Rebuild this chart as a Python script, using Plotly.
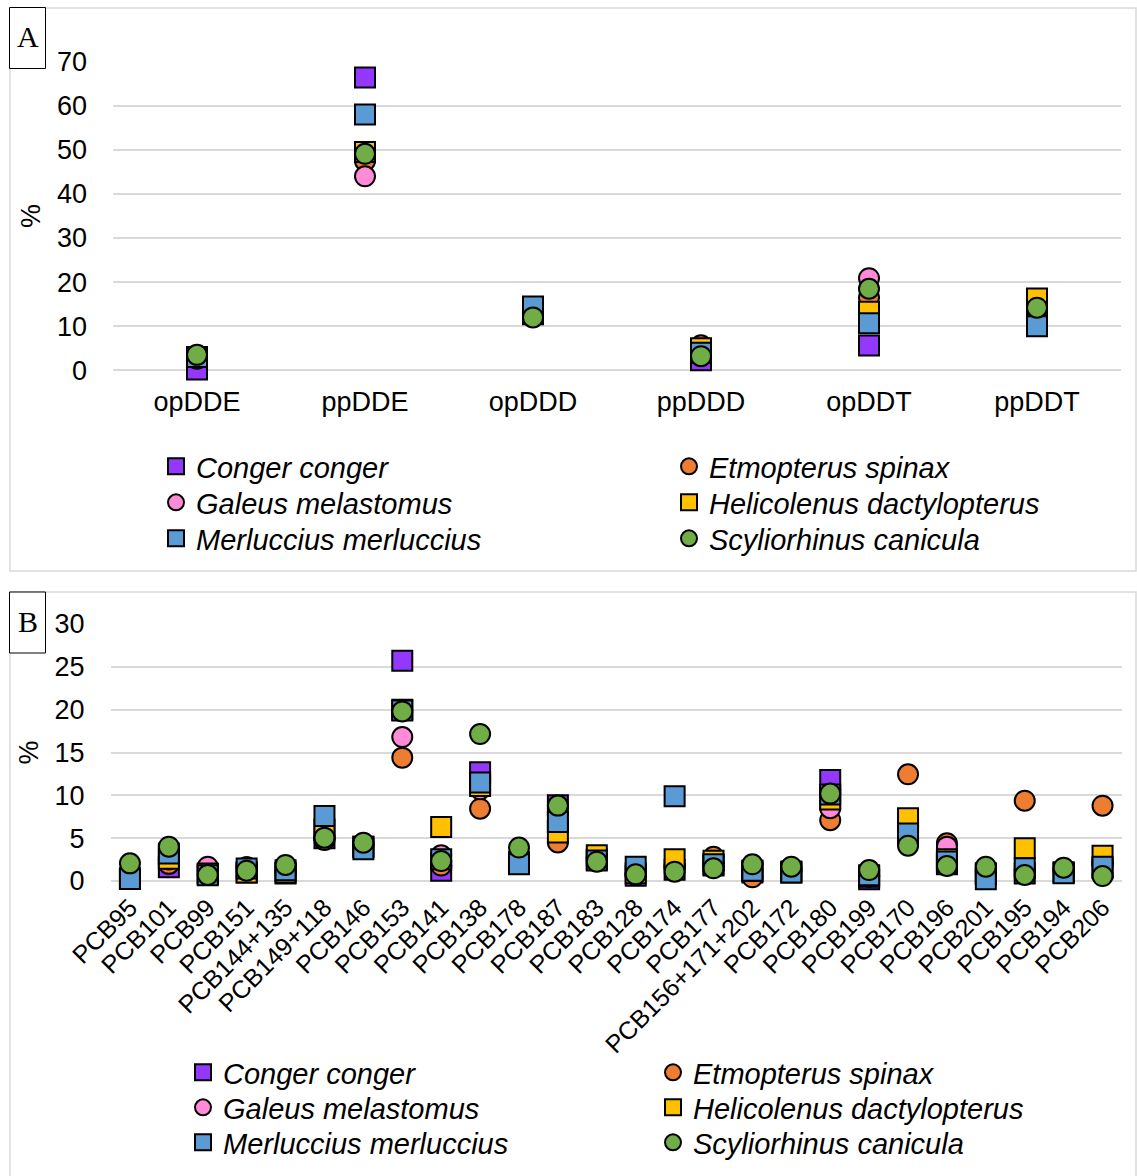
import plotly.graph_objects as go

W, H = 1137, 1176


def fx(px):
    return px / W


def fy(py):
    return 1 - py / H


# ---------------- data ----------------
species = ["Conger conger", "Etmopterus spinax", "Galeus melastomus",
           "Helicolenus dactylopterus", "Merluccius merluccius", "Scyliorhinus canicula"]

ddt_categories = ["opDDE", "ppDDE", "opDDD", "ppDDD", "opDDT", "ppDDT"]
ddt_conger = [0.2, 66.4, 12.7, 2.3, 5.6, 12.5]
ddt_etmopterus = [2.6, 47.5, 13.0, 5.7, 16.5, 13.2]
ddt_galeus = [2.8, 44.0, 13.3, 3.8, 20.9, 13.8]
ddt_helicolenus = [3.0, 49.5, 13.0, 5.0, 13.3, 16.3]
ddt_merluccius = [3.0, 58.0, 14.5, 4.0, 10.7, 10.0]
ddt_scyliorhinus = [3.5, 49.1, 12.0, 3.2, 18.5, 14.2]

pcb_categories = ["PCB95", "PCB101", "PCB99", "PCB151", "PCB144+135", "PCB149+118",
                  "PCB146", "PCB153", "PCB141", "PCB138", "PCB178", "PCB187", "PCB183",
                  "PCB128", "PCB174", "PCB177", "PCB156+171+202", "PCB172", "PCB180",
                  "PCB199", "PCB170", "PCB196", "PCB201", "PCB195", "PCB194", "PCB206"]
pcb_conger = [0.3, 1.6, 0.8, 1.0, 0.87, 5.0, 4.0, 25.7, 1.2, 12.7, 2.2, 8.85, 2.5,
              0.6, 1.3, 1.8, 1.0, 1.0, 11.8, 0.2, 6.0, 1.96, 0.8, 0.87, 1.0, 1.5]
pcb_etmopterus = [1.0, 2.0, 1.2, 1.6, 1.0, 4.8, 4.2, 14.4, 1.8, 8.44, 2.8, 4.5, 2.8,
                  0.7, 1.6, 2.84, 0.43, 1.2, 7.1, 0.5, 12.45, 4.4, 1.0, 9.37, 1.2, 8.79]
pcb_galeus = [1.2, 2.5, 1.67, 1.6, 1.2, 5.2, 4.3, 16.8, 3.0, 10.7, 3.0, 7.0, 2.6,
              0.8, 1.8, 2.0, 1.2, 1.3, 8.5, 0.6, 6.5, 4.0, 1.2, 1.2, 1.3, 2.0]
pcb_helicolenus = [0.3, 2.6, 0.88, 1.0, 1.0, 6.0, 4.0, 20.0, 6.3, 11.1, 2.2, 5.66, 3.0,
                   0.9, 2.55, 2.35, 1.2, 1.1, 9.5, 0.5, 7.33, 2.55, 0.9, 3.83, 1.0, 2.94]
pcb_merluccius = [0.23, 3.2, 0.68, 1.46, 1.26, 7.6, 3.7, 19.9, 2.55, 11.5, 1.96, 6.9, 2.4,
                  1.65, 9.9, 1.96, 1.19, 0.99, 10.1, 0.68, 5.54, 2.27, 0.2, 1.5, 0.91, 1.65]
pcb_scyliorhinus = [2.06, 4.0, 0.7, 1.2, 1.87, 5.06, 4.47, 19.8, 2.33, 17.15, 3.9, 8.8, 2.25,
                    0.78, 1.09, 1.48, 1.95, 1.67, 10.2, 1.28, 4.12, 1.75, 1.67, 0.7, 1.55, 0.58]

ddt_values = [ddt_conger, ddt_etmopterus, ddt_galeus, ddt_helicolenus, ddt_merluccius, ddt_scyliorhinus]
pcb_values = [pcb_conger, pcb_etmopterus, pcb_galeus, pcb_helicolenus, pcb_merluccius, pcb_scyliorhinus]

# ---------------- styles ----------------
symbols = ["square", "circle", "circle", "square", "square", "circle"]
colors = ["#9437FF", "#ED7D31", "#FF8AD8", "#FFC000", "#5B9BD5", "#70AD47"]
FONT = "Liberation Sans, Arial, sans-serif"
GRID = "#d9d9d9"
LEG_FONT = dict(family=FONT, size=29, color="black")

# legend rows: two entries per row, one legend per row
ddt_legends = ["legend", "legend", "legend2", "legend2", "legend3", "legend3"]
pcb_legends = ["legend4", "legend4", "legend5", "legend5", "legend6", "legend6"]

fig = go.Figure()

for i, name in enumerate(species):
    fig.add_trace(go.Scatter(
        x=ddt_categories, y=ddt_values[i], mode="markers", name="<i>%s</i>" % name,
        xaxis="x", yaxis="y", legend=ddt_legends[i], cliponaxis=False,
        marker=dict(symbol=symbols[i], size=20, color=colors[i],
                    line=dict(color="black", width=2)),
    ))

for i, name in enumerate(species):
    fig.add_trace(go.Scatter(
        x=pcb_categories, y=pcb_values[i], mode="markers", name="<i>%s</i>" % name,
        xaxis="x2", yaxis="y2", legend=pcb_legends[i], cliponaxis=False,
        marker=dict(symbol=symbols[i], size=20, color=colors[i],
                    line=dict(color="black", width=2)),
    ))

tickfont = dict(family=FONT, size=27, color="black")


def legend_cfg(left, center_y, entrywidth):
    return dict(orientation="h", x=fx(left), y=fy(center_y - 26), xanchor="left", yanchor="top",
                xref="paper", yref="paper", entrywidth=entrywidth, entrywidthmode="pixels",
                font=LEG_FONT, bgcolor="rgba(0,0,0,0)", borderwidth=0, traceorder="normal")


fig.update_layout(
    width=W, height=H,
    margin=dict(l=0, r=0, t=0, b=0, autoexpand=False),
    paper_bgcolor="white", plot_bgcolor="rgba(0,0,0,0)",
    font=dict(family=FONT, color="black"),
    xaxis=dict(domain=[fx(113), fx(1121)], anchor="y", type="category",
               range=[-0.5, len(ddt_categories) - 0.5],
               showgrid=False, zeroline=False, showline=False, ticks="",
               tickfont=tickfont, ticklabelstandoff=13, fixedrange=True),
    yaxis=dict(domain=[fy(370.3), fy(61.7)], anchor="x", range=[0, 70], dtick=10,
               showgrid=True, gridcolor=GRID, gridwidth=1.5,
               zeroline=True, zerolinecolor=GRID, zerolinewidth=1.5,
               showline=False, ticks="", tickfont=tickfont, ticklabelstandoff=25,
               title=dict(text="%", font=dict(family=FONT, size=27, color="black"), standoff=8)),
    xaxis2=dict(domain=[fx(110.5), fx(1122)], anchor="y2", type="category",
                range=[-0.5, len(pcb_categories) - 0.5],
                showgrid=False, zeroline=False, showline=False, ticks="",
                tickangle=-45, tickfont=dict(family=FONT, size=25, color="black"),
                ticklabelstandoff=6),
    yaxis2=dict(domain=[fy(881), fy(624)], anchor="x2", range=[0, 30], dtick=5,
                showgrid=True, gridcolor=GRID, gridwidth=1.5,
                zeroline=True, zerolinecolor=GRID, zerolinewidth=1.5,
                showline=False, ticks="", tickfont=tickfont, ticklabelstandoff=25,
                title=dict(text="%", font=dict(family=FONT, size=27, color="black"), standoff=8)),
    legend=legend_cfg(156, 467, 468),
    legend2=legend_cfg(156, 503, 468),
    legend3=legend_cfg(156, 539, 468),
    legend4=legend_cfg(183, 1073, 425),
    legend5=legend_cfg(183, 1108, 425),
    legend6=legend_cfg(183, 1143, 425),
    showlegend=True,
)

# panel borders
fig.add_shape(type="rect", xref="paper", yref="paper", layer="below",
              x0=fx(10), x1=fx(1136), y0=fy(571), y1=fy(8),
              line=dict(color=GRID, width=1.5), fillcolor="rgba(0,0,0,0)")
fig.add_shape(type="rect", xref="paper", yref="paper", layer="below",
              x0=fx(10), x1=fx(1136), y0=fy(1185), y1=fy(592),
              line=dict(color=GRID, width=1.5), fillcolor="rgba(0,0,0,0)")

# panel label boxes
for label, top, bottom in [("A", 7.5, 68.5), ("B", 592, 653)]:
    fig.add_shape(type="rect", xref="paper", yref="paper", layer="above",
                  x0=fx(9.5), x1=fx(45.5), y0=fy(bottom), y1=fy(top),
                  line=dict(color="black", width=1), fillcolor="white")
    fig.add_annotation(text=label, xref="paper", yref="paper",
                       x=fx(28), y=fy(top + 29.5), xanchor="center", yanchor="middle",
                       showarrow=False,
                       font=dict(family="Liberation Serif, Times New Roman, serif", size=30, color="black"))

fig.write_html("out.html", config={"displayModeBar": False},
               post_script="document.body.style.margin='0px';")
